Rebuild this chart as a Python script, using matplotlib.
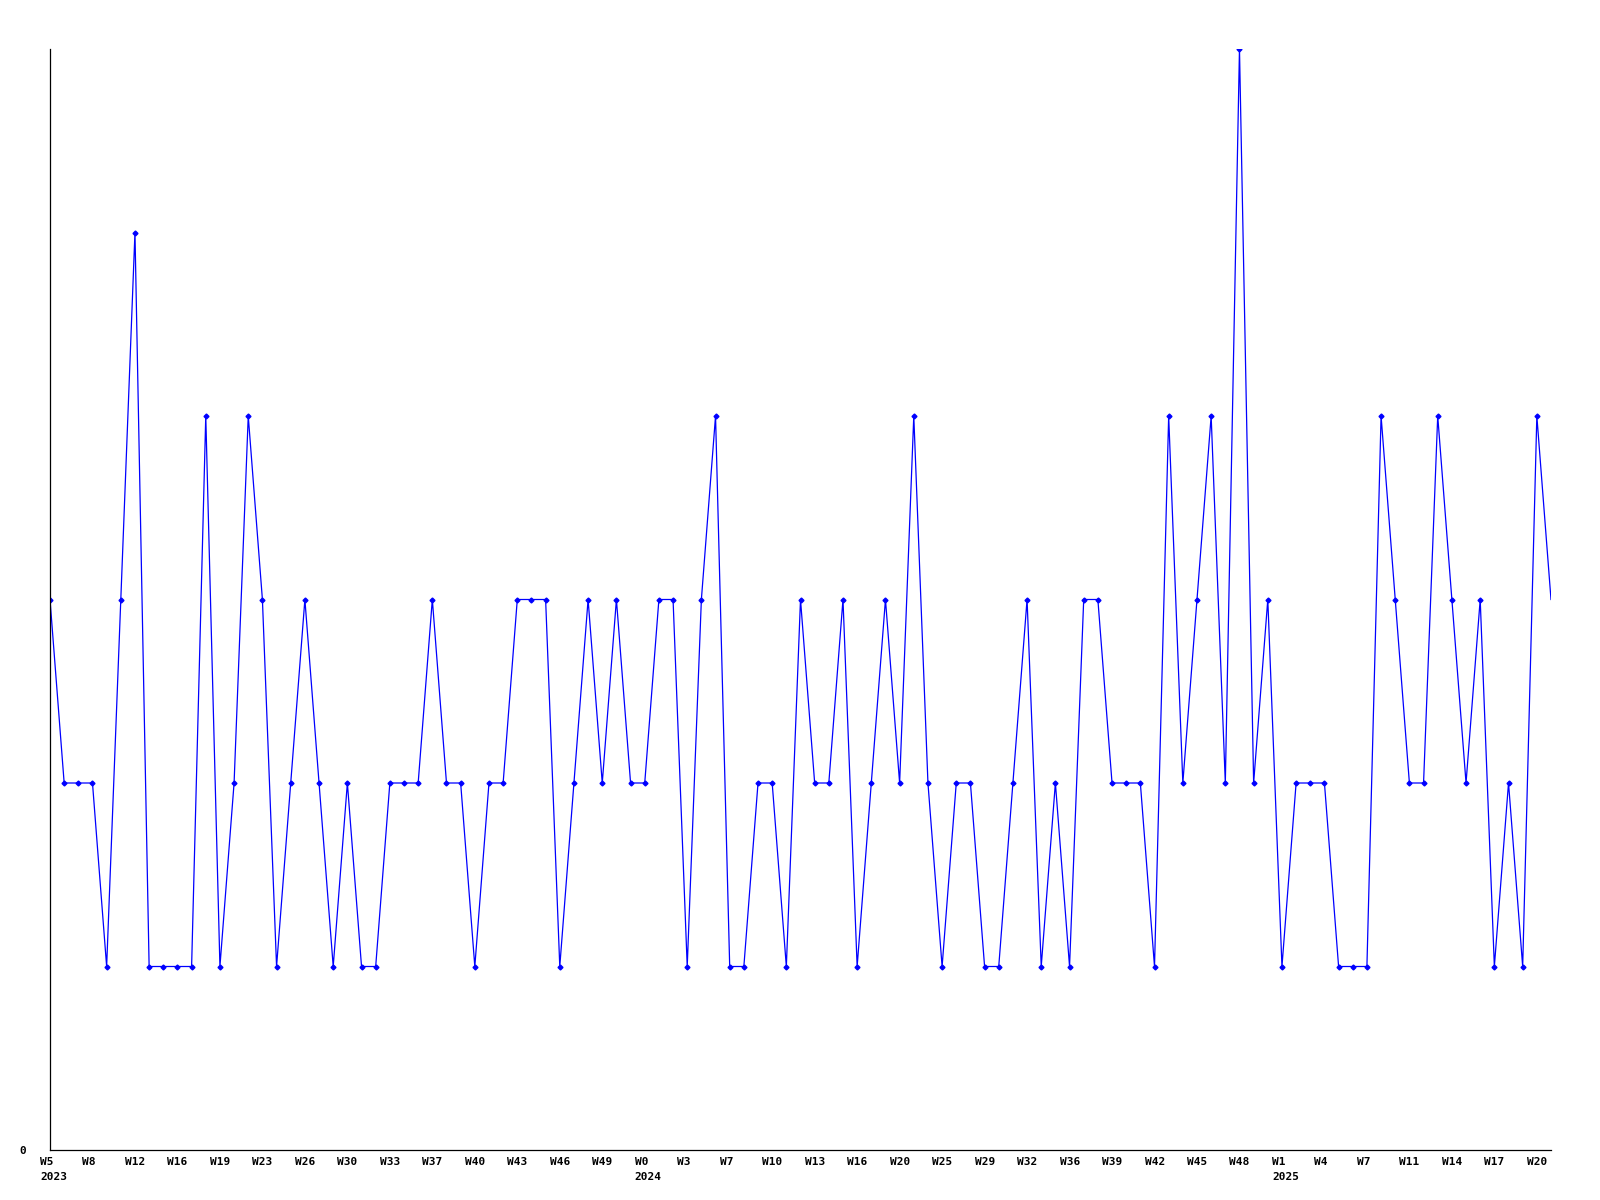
import matplotlib
matplotlib.use('Agg')
import matplotlib.pyplot as plt
import numpy as np

# weekly counts
values = [3, 2, 2, 2, 1, 3, 5, 1, 1, 1, 1, 4, 1, 2, 4, 3, 1, 2, 3, 2,
          1, 2, 1, 1, 2, 2, 2, 3, 2, 2, 1, 2, 2, 3, 3, 3, 1, 2, 3, 2,
          3, 2, 2, 3, 3, 1, 3, 4, 1, 1, 2, 2, 1, 3, 2, 2, 3, 1, 2, 3,
          2, 4, 2, 1, 2, 2, 1, 1, 2, 3, 1, 2, 1, 3, 3, 2, 2, 2, 1, 4,
          2, 3, 4, 2, 6, 2, 3, 1, 2, 2, 2, 1, 1, 1, 4, 3, 2, 2, 4, 3,
          2, 3, 1, 2, 1, 4, 3]

week_labels = ['W5', 'W8', 'W12', 'W16', 'W19', 'W23', 'W26', 'W30', 'W33',
               'W37', 'W40', 'W43', 'W46', 'W49', 'W0', 'W3', 'W7', 'W10',
               'W13', 'W16', 'W20', 'W25', 'W29', 'W32', 'W36', 'W39', 'W42',
               'W45', 'W48', 'W1', 'W4', 'W7', 'W11', 'W14', 'W17', 'W20']
year_labels = {0: '2023', 14: '2024', 29: '2025'}

label_step = 3
x = np.arange(len(values))

fig = plt.figure(figsize=(16, 12), dpi=100)
ax = fig.add_axes([50 / 1600, 50 / 1200, 1501 / 1600, 1101 / 1200])

ax.plot(x, values, color='#0000ff', linewidth=0.9, marker='D', markersize=2.5,
        markevery=list(range(len(values) - 1)))

ax.set_xlim(0, len(values) - 1)
ax.set_ylim(0, 6)

for side in ['top', 'right']:
    ax.spines[side].set_visible(False)
for side in ['left', 'bottom']:
    ax.spines[side].set_color('black')
    ax.spines[side].set_linewidth(0.9)

ax.set_xticks([])
ax.set_yticks([0])
ax.set_yticklabels(['0'], family='DejaVu Sans Mono', fontweight='bold', fontsize=8)
ax.tick_params(axis='y', length=0, pad=17)

font = dict(family='DejaVu Sans Mono', fontweight='bold', fontsize=8)
for i, lab in enumerate(week_labels):
    ax.annotate(lab, xy=(i * label_step, 0), xycoords=('data', 'axes fraction'),
                xytext=(-10, -7), textcoords='offset pixels',
                ha='left', va='top', **font)
    if i in year_labels:
        ax.annotate(year_labels[i], xy=(i * label_step, 0),
                    xycoords=('data', 'axes fraction'),
                    xytext=(-10, -22), textcoords='offset pixels',
                    ha='left', va='top', **font)

fig.savefig('out.png', dpi=100)
